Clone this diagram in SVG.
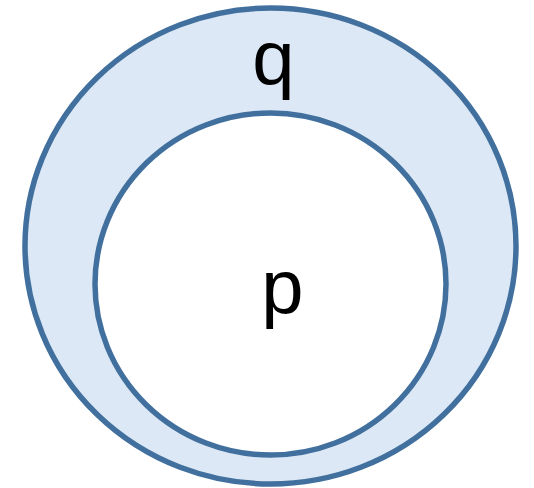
<svg xmlns="http://www.w3.org/2000/svg" width="534" height="488" viewBox="0 0 534 488">
<style>
.c{stroke:#41709e;stroke-width:5.5}
.t{font-family:"Liberation Sans",Arial,sans-serif;font-size:76px;fill:#000;text-anchor:middle}
</style>
<rect width="534" height="488" fill="#fff"/>
<g id="q">
<ellipse class="c" cx="270.5" cy="246" rx="245.5" ry="238" fill="#dce8f5"/>
<text class="t" x="273.5" y="83.5">q</text>
</g>
<g id="p">
<ellipse class="c" cx="270.5" cy="284" rx="175.5" ry="171" fill="#fff"/>
<text class="t" x="282.5" y="312.5">p</text>
</g>
<g id="connectors"/>
</svg>
